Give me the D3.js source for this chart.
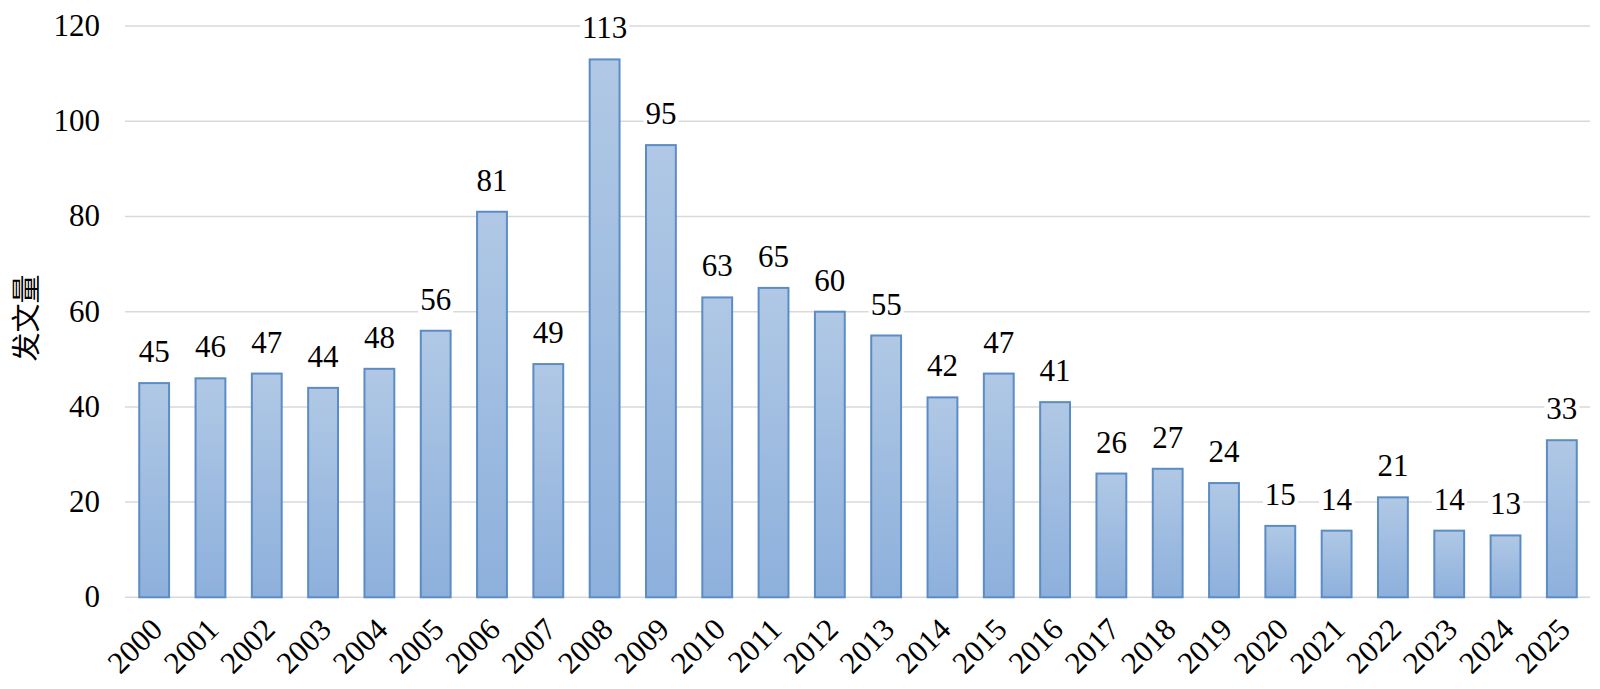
<!DOCTYPE html>
<html><head><meta charset="utf-8">
<script src="https://cdn.jsdelivr.net/npm/d3@7/dist/d3.min.js"></script>
<style>
html,body{margin:0;padding:0;background:#fff;}
svg{display:block;}
</style></head>
<body>
<script>
const years = ["2000","2001","2002","2003","2004","2005","2006","2007","2008","2009","2010","2011","2012","2013","2014","2015","2016","2017","2018","2019","2020","2021","2022","2023","2024","2025"];
const counts = [45,46,47,44,48,56,81,49,113,95,63,65,60,55,42,47,41,26,27,24,15,14,21,14,13,33];
const yTicks = [0,20,40,60,80,100,120];
const yTitle = "发文量";

const W = 1600, H = 689;
const plotLeft = 126, plotRight = 1590, plotTop = 26.1, plotBottom = 597.3;
const serif = "'Liberation Serif','Times New Roman',serif";

const svg = d3.select("body").append("svg").attr("width", W).attr("height", H);
const defs = svg.append("defs");
const grad = defs.append("linearGradient").attr("id","barGrad").attr("x1",0).attr("y1",0).attr("x2",0).attr("y2",1);
grad.append("stop").attr("offset","0%").attr("stop-color","#b0c8e5");
grad.append("stop").attr("offset","100%").attr("stop-color","#8db0dc");

const x = d3.scaleBand().domain(years).range([plotLeft, plotRight]).paddingInner(0.47).paddingOuter(0.235);
const y = d3.scaleLinear().domain([0,120]).range([plotBottom, plotTop]);

// gridlines
const grid = svg.append("g");
grid.selectAll("line").data(yTicks).join("line")
  .attr("x1", plotLeft - 1).attr("x2", plotRight)
  .attr("y1", d => y(d)).attr("y2", d => y(d))
  .attr("stroke", "#d9d9d9").attr("stroke-width", 1.5);

// y axis labels
const yAxis = d3.axisLeft(y).tickValues(yTicks).tickSize(0).tickPadding(26);
const gy = svg.append("g").attr("transform", `translate(${plotLeft},0)`).call(yAxis);
gy.select(".domain").remove();
gy.selectAll("text").attr("font-family", serif).attr("font-size", 31).attr("fill", "#000").attr("dy","0.3em");

// bars
svg.append("g").selectAll("rect").data(years).join("rect")
  .attr("x", d => x(d))
  .attr("y", (d,i) => y(counts[i]))
  .attr("width", x.bandwidth())
  .attr("height", (d,i) => y(0) - y(counts[i]))
  .attr("fill", "url(#barGrad)")
  .attr("stroke", "#5b8cc4").attr("stroke-width", 2);

// x axis labels
const xAxis = d3.axisBottom(x).tickSize(0).tickPadding(0);
const gx = svg.append("g").attr("transform", `translate(0,${plotBottom})`).call(xAxis);
gx.select(".domain").remove();
gx.selectAll("text")
  .attr("font-family", serif).attr("font-size", 31).attr("fill","#000")
  .attr("text-anchor","end")
  .attr("dy", null)
  .attr("transform", "translate(10,34) rotate(-45)");

// value labels with white background
const lbl = svg.append("g").selectAll("g").data(years).join("g")
  .attr("transform", (d,i) => `translate(${x(d) + x.bandwidth()/2},${y(counts[i]) - 21})`);
lbl.each(function(d,i){
  const g = d3.select(this);
  const t = g.append("text").text(counts[i])
    .attr("font-family", serif).attr("font-size", 31).attr("text-anchor","middle").attr("fill","#000");
  const bb = t.node().getBBox();
  g.insert("rect","text").attr("x", bb.x - 2).attr("y", bb.y).attr("width", bb.width + 4).attr("height", bb.height).attr("fill","#fff");
});

// y title
svg.append("text").text(yTitle)
  .attr("transform", "translate(37,318) rotate(-90)")
  .attr("text-anchor","middle")
  .attr("font-family", "'Noto Sans CJK SC',sans-serif")
  .attr("font-size", 29).attr("fill","#000");
</script>
</body></html>
